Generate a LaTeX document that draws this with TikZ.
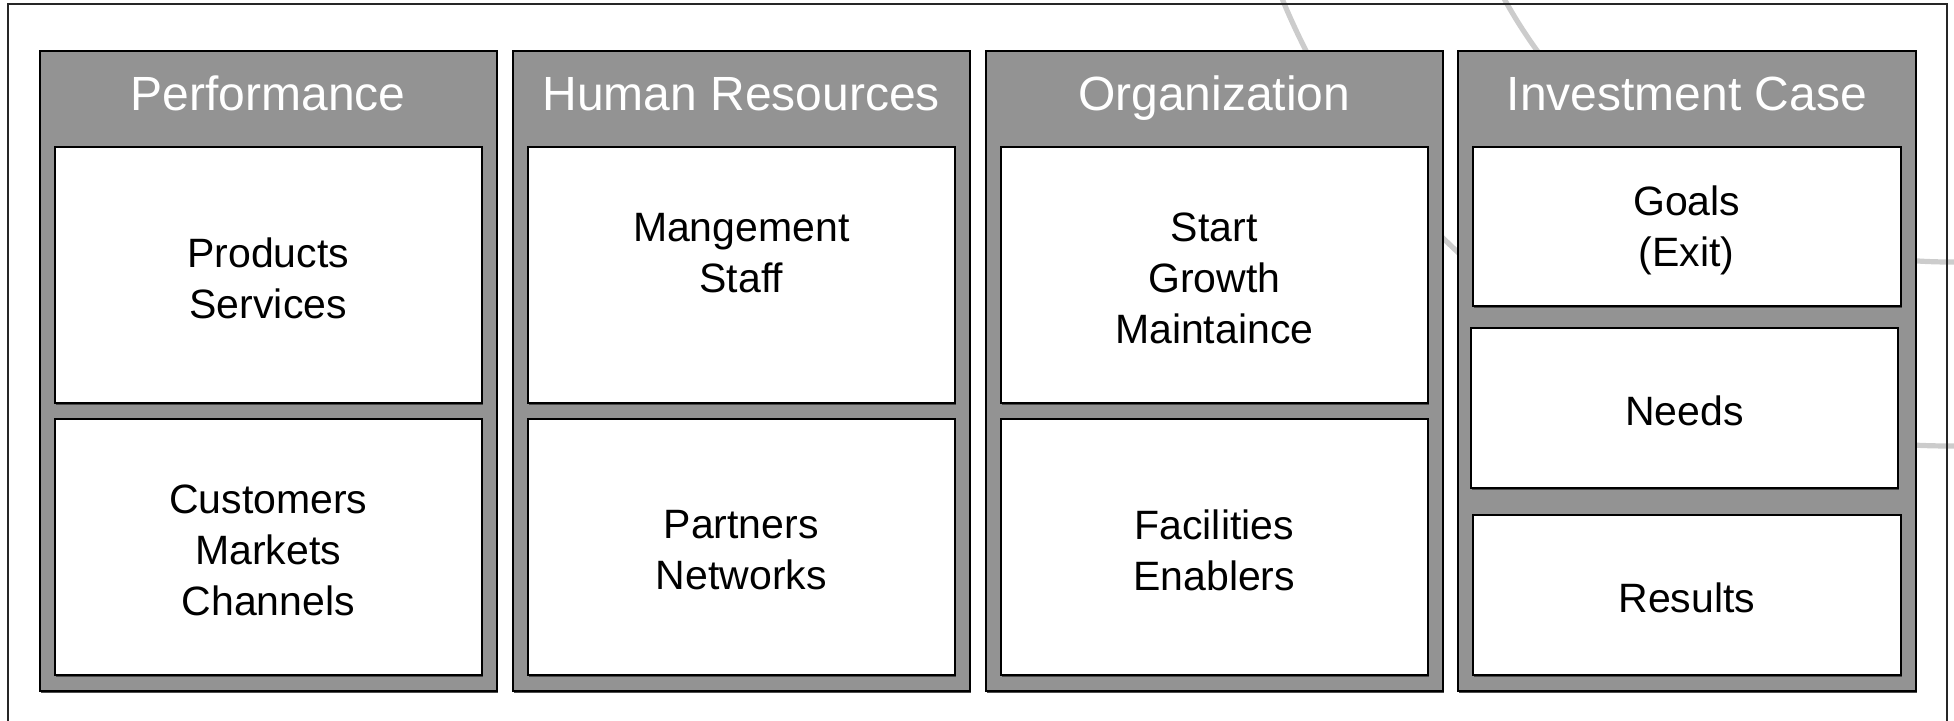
\documentclass[tikz,border=0pt]{standalone}
\usepackage{fontspec}
\setmainfont{Liberation Sans}
\usetikzlibrary{shadows}
\definecolor{panelgray}{RGB}{147,147,147}
\definecolor{arcgray}{RGB}{204,204,204}
\def\PX{0.5pt}
\begin{document}
\begin{tikzpicture}[x=0.5pt,y=-0.5pt,
  panel/.style={draw=black, line width=1pt, fill=panelgray, inner sep=0pt, outer sep=0pt,
    anchor=north west, minimum width=457.5*\PX, minimum height=639.5*\PX,
    drop shadow={shadow xshift=0.6pt, shadow yshift=-1.2pt, opacity=0.7, fill=black}},
  inbox/.style={draw=black, line width=1pt, fill=white, inner sep=0pt, outer sep=0pt,
    anchor=north west, minimum width=427.5*\PX,
    drop shadow={shadow xshift=0.5pt, shadow yshift=-1pt, opacity=0.5, fill=black}},
  bodytxt/.style={align=center, inner sep=0pt, yshift=-1.6pt,
    font=\fontsize{20.5}{25.5}\selectfont},
  headtxt/.style={text=white, anchor=base, inner sep=0pt, font=\fontsize{24}{28}\selectfont},
  arcline/.style={draw=arcgray, line width=2.6pt},
  frameline/.style={draw=black!85, line width=1pt}
]
\useasboundingbox (0,0) rectangle (1954,721);
\begin{scope}
  \clip (0,0) rectangle (1954,721);
  \draw[arcline] (1950,-276) circle[radius=722];
  \draw[arcline] (1950,-247) circle[radius=509];
\end{scope}
\draw[frameline] (8,725) -- (8,4) -- (1947,4) -- (1947,725);

% panels
\node[panel] (p1) at (39.5,51.5) {};
\node[panel] (p2) at (512.5,51.5) {};
\node[panel] (p3) at (985.5,51.5) {};
\node[panel] (p4) at (1458,51.5) {};

% headers
\node[headtxt] (h1) at (268.25,110.5) {Performance};
\node[headtxt] (h2) at (741.25,110.5) {Human Resources};
\node[headtxt] (h3) at (1214.25,110.5) {Organization};
\node[headtxt] (h4) at (1686.75,110.5) {Investment Case};

% column 1
\node[inbox, minimum height=256.5*\PX] (b11) at (54.5,147) {};
\node[inbox, minimum height=256*\PX] (b12) at (54.5,419) {};
% column 2
\node[inbox, minimum height=256.5*\PX] (b21) at (527.5,147) {};
\node[inbox, minimum height=256*\PX] (b22) at (527.5,419) {};
% column 3
\node[inbox, minimum height=256.5*\PX] (b31) at (1000.5,147) {};
\node[inbox, minimum height=256*\PX] (b32) at (1000.5,419) {};
% column 4
\node[inbox, minimum height=159.5*\PX] (b41) at (1473,147) {};
\node[inbox, minimum height=160*\PX] (b42) at (1470.5,328) {};
\node[inbox, minimum height=160.5*\PX] (b43) at (1473,514.5) {};

% texts
\node[bodytxt] (t11) at (b11.center) {Products\\Services};
\node[bodytxt] (t12) at (b12.center) {Customers\\Markets\\Channels};
\node[bodytxt, yshift=12.6pt] (t21) at (b21.center) {Mangement\\Staff};
\node[bodytxt] (t22) at (b22.center) {Partners\\Networks};
\node[bodytxt] (t31) at (b31.center) {Start\\Growth\\Maintaince};
\node[bodytxt] (t32) at (b32.center) {Facilities\\Enablers};
\node[bodytxt] (t41) at (b41.center) {Goals\\(Exit)};
\node[bodytxt] (t42) at (b42.center) {Needs};
\node[bodytxt] (t43) at (b43.center) {Results};
\end{tikzpicture}
\end{document}
